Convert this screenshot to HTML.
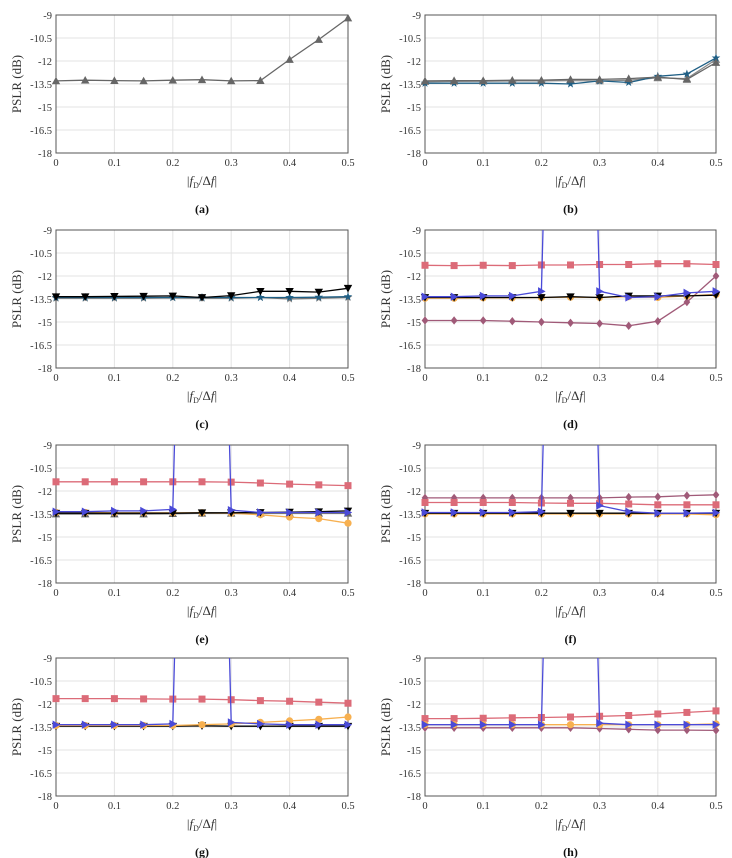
<!DOCTYPE html>
<html><head><meta charset="utf-8"><style>
body{margin:0;background:#fff;}
svg{display:block;font-family:"Liberation Serif",serif;}
</style></head><body>
<svg id="fig" width="732" height="858" viewBox="0 0 732 858"></svg>
<script>
const xVals=[0,0.05,0.1,0.15,0.2,0.25,0.3,0.35,0.4,0.45,0.5];
const xTicks=[0,0.1,0.2,0.3,0.4,0.5];
const xTickLabels=["0","0.1","0.2","0.3","0.4","0.5"];
const yTicks=[-9,-10.5,-12,-13.5,-15,-16.5,-18];
const yTickLabels=["-9","-10.5","-12","-13.5","-15","-16.5","-18"];
const panelLabels=["(a)","(b)","(c)","(d)","(e)","(f)","(g)","(h)"];
const aGray=[-13.3,-13.25,-13.28,-13.3,-13.25,-13.22,-13.3,-13.28,-11.9,-10.6,-9.2];
const bGray=[-13.3,-13.28,-13.28,-13.25,-13.25,-13.2,-13.2,-13.15,-13.05,-13.2,-12.1];
const bGray2=[-13.35,-13.33,-13.32,-13.3,-13.3,-13.28,-13.3,-13.25,-13.1,-13.15,-11.9];
const bStar=[-13.45,-13.45,-13.45,-13.45,-13.45,-13.5,-13.3,-13.4,-13.0,-12.85,-11.8];
const cBlack=[-13.35,-13.35,-13.33,-13.32,-13.3,-13.4,-13.28,-13.0,-13.0,-13.05,-12.8];
const cGray=[-13.45,-13.45,-13.45,-13.45,-13.42,-13.45,-13.45,-13.4,-13.5,-13.45,-13.4];
const cStar=[-13.4,-13.4,-13.4,-13.4,-13.4,-13.4,-13.4,-13.4,-13.4,-13.38,-13.35];
const dPink=[-11.3,-11.32,-11.3,-11.32,-11.28,-11.28,-11.25,-11.25,-11.2,-11.2,-11.25];
const dMauve=[-14.9,-14.9,-14.9,-14.95,-15.0,-15.05,-15.1,-15.25,-14.95,-13.7,-12.0];
const dOrange=[-13.45,-13.45,-13.42,-13.42,-13.4,-13.38,-13.4,-13.35,-13.4,-13.3,-13.2];
const dBlack=[-13.4,-13.4,-13.4,-13.4,-13.4,-13.35,-13.4,-13.3,-13.3,-13.3,-13.25];
const dBlue=[-13.35,-13.35,-13.3,-13.3,-13.0,60,-13.0,-13.4,-13.35,-13.1,-13.0];
const ePink=[-11.4,-11.4,-11.4,-11.4,-11.4,-11.4,-11.42,-11.48,-11.55,-11.6,-11.65];
const eGray=[-13.5,-13.5,-13.5,-13.5,-13.48,-13.45,-13.45,-13.45,-13.45,-13.45,-13.45];
const eOrange=[-13.4,-13.4,-13.42,-13.42,-13.42,-13.42,-13.45,-13.55,-13.7,-13.8,-14.1];
const eBlack=[-13.45,-13.45,-13.45,-13.45,-13.45,-13.42,-13.42,-13.4,-13.38,-13.35,-13.3];
const eBlue=[-13.35,-13.35,-13.3,-13.3,-13.2,60,-13.25,-13.4,-13.4,-13.4,-13.4];
const fMauve=[-12.45,-12.45,-12.45,-12.45,-12.45,-12.45,-12.45,-12.4,-12.38,-12.3,-12.25];
const fPink=[-12.75,-12.75,-12.75,-12.75,-12.78,-12.8,-12.8,-12.85,-12.9,-12.9,-12.9];
const fOrange=[-13.5,-13.5,-13.5,-13.5,-13.5,-13.5,-13.5,-13.5,-13.5,-13.5,-13.55];
const fBlack=[-13.45,-13.45,-13.45,-13.45,-13.45,-13.45,-13.45,-13.45,-13.45,-13.45,-13.45];
const fBlue=[-13.4,-13.4,-13.4,-13.4,-13.35,60,-12.95,-13.35,-13.45,-13.45,-13.42];
const gPink=[-11.65,-11.65,-11.65,-11.67,-11.68,-11.68,-11.72,-11.78,-11.82,-11.88,-11.95];
const gBlack=[-13.45,-13.45,-13.45,-13.45,-13.45,-13.42,-13.45,-13.45,-13.45,-13.45,-13.45];
const gOrange=[-13.4,-13.4,-13.4,-13.4,-13.4,-13.35,-13.3,-13.2,-13.1,-13.0,-12.85];
const gBlue=[-13.35,-13.35,-13.35,-13.35,-13.3,60,-13.2,-13.3,-13.35,-13.35,-13.35];
const hPink=[-12.95,-12.95,-12.93,-12.9,-12.88,-12.85,-12.8,-12.75,-12.65,-12.55,-12.45];
const hMauve=[-13.55,-13.55,-13.55,-13.55,-13.55,-13.55,-13.6,-13.65,-13.7,-13.7,-13.72];
const hOrange=[-13.35,-13.35,-13.35,-13.35,-13.35,-13.35,-13.35,-13.35,-13.35,-13.35,-13.3];
const hBlue=[-13.35,-13.35,-13.35,-13.35,-13.35,60,-13.25,-13.35,-13.35,-13.35,-13.35];

const ST={
 gray:{c:"#666666",m:"tri"}, gray2:{c:"#8a8a8a",m:"tri"}, star:{c:"#1f5f85",m:"star"},
 black:{c:"#000000",m:"dtri"}, pink:{c:"#dc6b78",m:"sq"}, mauve:{c:"#a05a78",m:"dia"},
 orange:{c:"#f7b050",m:"circ"}, blue:{c:"#4a4ad8",m:"rtri"}, gstar:{c:"#777777",m:"star"}
};
const panels=[
 [["gray",aGray]],
 [["gray2",bGray2],["star",bStar],["gray",bGray]],
 [["gstar",cGray],["star",cStar],["black",cBlack]],
 [["pink",dPink],["mauve",dMauve],["orange",dOrange],["black",dBlack],["blue",dBlue]],
 [["pink",ePink],["gray",eGray],["orange",eOrange],["black",eBlack],["blue",eBlue]],
 [["mauve",fMauve],["pink",fPink],["orange",fOrange],["black",fBlack],["blue",fBlue]],
 [["pink",gPink],["black",gBlack],["orange",gOrange],["blue",gBlue]],
 [["pink",hPink],["mauve",hMauve],["orange",hOrange],["blue",hBlue]]
];
const NS="http://www.w3.org/2000/svg";
const svg=document.getElementById("fig");
function mk(t,a,p){const e=document.createElementNS(NS,t);for(const k in a)e.setAttribute(k,a[k]);(p||svg).appendChild(e);return e;}
function marker(g,m,x,y,c){
 const s=4.2;let e;
 if(m==="tri") e=mk("polygon",{points:`${x},${y-s} ${x-s},${y+s*0.8} ${x+s},${y+s*0.8}`,fill:c},g);
 else if(m==="dtri") e=mk("polygon",{points:`${x},${y+s} ${x-s},${y-s*0.8} ${x+s},${y-s*0.8}`,fill:c},g);
 else if(m==="rtri") e=mk("polygon",{points:`${x+s},${y} ${x-s*0.8},${y-s} ${x-s*0.8},${y+s}`,fill:c},g);
 else if(m==="sq") e=mk("rect",{x:x-3.5,y:y-3.5,width:7,height:7,fill:c},g);
 else if(m==="dia") e=mk("polygon",{points:`${x},${y-s} ${x+s*0.8},${y} ${x},${y+s} ${x-s*0.8},${y}`,fill:c},g);
 else if(m==="circ") e=mk("circle",{cx:x,cy:y,r:3.6,fill:c},g);
 else { let p=[];for(let i=0;i<10;i++){const r=i%2?1.8:4.5;const a=-Math.PI/2+i*Math.PI/5;p.push((x+r*Math.cos(a)).toFixed(1)+","+(y+r*Math.sin(a)).toFixed(1));}
  e=mk("polygon",{points:p.join(" "),fill:c},g);}
 return e;
}
panels.forEach((series,pi)=>{
 const col=pi%2,row=Math.floor(pi/2);
 const L=col?425:56,R=col?716:348,T=[15,230,445,658][row],B=T+138;
 const sx=v=>L+(v-0)/(0.5)*(R-L);
 const sy=v=>T+(-9-v)/9*(B-T);
 const g=mk("g",{});
 
 
 mk("rect",{x:L,y:T,width:R-L,height:B-T,fill:"#fff"},g);
 xTicks.forEach((t,i)=>{const x=sx(t);
  mk("line",{x1:x,y1:T,x2:x,y2:B,stroke:"#e3e3e3","stroke-width":1},g);
  const tx=mk("text",{x:x,y:B+13,"font-size":10.5,"text-anchor":"middle",fill:"#333"},g);tx.textContent=xTickLabels[i];
  
  });
 yTicks.forEach((t,i)=>{const y=sy(t);
  mk("line",{x1:L,y1:y,x2:R,y2:y,stroke:"#e3e3e3","stroke-width":1},g);
  const ty=mk("text",{x:L-4,y:y+4,"font-size":10.5,"text-anchor":"end",fill:"#333"},g);ty.textContent=yTickLabels[i];
  
  });
 mk("rect",{x:L,y:T,width:R-L,height:B-T,fill:"none",stroke:"#555","stroke-width":1},g);
 const cid="clip"+pi;
 const cp=mk("clipPath",{id:cid},g);mk("rect",{x:L-6,y:T,width:R-L+12,height:B-T+6},cp);
 const dg=mk("g",{"clip-path":`url(#${cid})`},g);
 series.forEach(([k,vals])=>{
  const st=ST[k];
  const pts=vals.map((v,i)=>sx(xVals[i]).toFixed(1)+","+sy(v).toFixed(1)).join(" ");
  const pl=mk("polyline",{points:pts,fill:"none",stroke:st.c,"stroke-width":1.3},dg);
  
  
  vals.forEach((v,i)=>{const m=marker(dg,st.m,sx(xVals[i]),sy(v),st.c);
   
   });
 });
 const yl=mk("text",{x:0,y:0,"font-size":13,"text-anchor":"middle",fill:"#333",transform:`translate(${L-35},${(T+B)/2}) rotate(-90)`},g);
 yl.textContent="PSLR (dB)";
 
 
 const xl=mk("text",{x:(L+R)/2,y:B+32,"font-size":13,"text-anchor":"middle",fill:"#333"},g);
 xl.innerHTML='|<tspan font-style="italic">f</tspan><tspan font-size="8" dy="3">D</tspan><tspan dy="-3">/Δ</tspan><tspan font-style="italic">f</tspan>|';
 
 
 const pl=mk("text",{x:(L+R)/2,y:B+60,"font-size":12,"font-weight":"bold","text-anchor":"middle",fill:"#111"},g);
 pl.textContent=panelLabels[pi];
 
 
});
</script>
</body></html>
